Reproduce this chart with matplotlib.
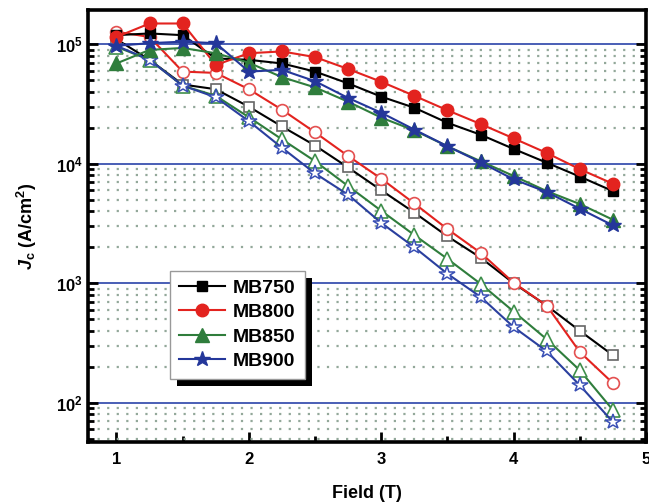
import numpy as np
import matplotlib
matplotlib.use("Agg")
import matplotlib.pyplot as plt
from matplotlib.patches import Rectangle
from matplotlib.ticker import LogLocator, MultipleLocator, NullFormatter

plt.rcParams['font.family'] = 'Liberation Sans'
plt.rcParams['font.weight'] = 'bold'
plt.rcParams['mathtext.fontset'] = 'custom'
plt.rcParams['mathtext.rm'] = 'Liberation Sans:bold'
plt.rcParams['mathtext.bf'] = 'Liberation Sans:bold'
plt.rcParams['mathtext.it'] = 'Liberation Sans:bold:italic'

## Field values (T) and Jc (A/cm^2) for each sample
field = [1.0, 1.25, 1.5, 1.75, 2.0, 2.25, 2.5, 2.75,
         3.0, 3.25, 3.5, 3.75, 4.0, 4.25, 4.5, 4.75]

# filled symbols
mb750 = [1.19e5, 1.23e5, 1.19e5, 7.6e4, 7.4e4, 6.9e4, 5.9e4, 4.7e4,
         3.64e4, 2.94e4, 2.2e4, 1.75e4, 1.33e4, 1.02e4, 7.8e3, 5.9e3]
mb800 = [1.15e5, 1.49e5, 1.49e5, 6.7e4, 8.4e4, 8.7e4, 7.8e4, 6.2e4,
         4.85e4, 3.7e4, 2.8e4, 2.15e4, 1.63e4, 1.23e4, 9.0e3, 6.8e3]
mb850 = [6.9e4, 8.96e4, 9.3e4, 8.4e4, 7.0e4, 5.3e4, 4.35e4, 3.3e4,
         2.43e4, 1.9e4, 1.4e4, 1.05e4, 7.9e3, 5.9e3, 4.6e3, 3.4e3]
mb900 = [9.7e4, 1.02e5, 1.05e5, 1.02e5, 5.9e4, 6.1e4, 4.9e4, 3.55e4,
         2.67e4, 1.93e4, 1.4e4, 1.03e4, 7.4e3, 5.8e3, 4.2e3, 3.05e3]

# open symbols
mb750_o = [1.1e5, 7.4e4, 4.6e4, 4.2e4, 3.0e4, 2.05e4, 1.42e4, 9.3e3,
           6.0e3, 3.9e3, 2.47e3, 1.64e3, 1.0e3, 6.5e2, 4.0e2, 2.5e2]
mb800_o = [1.27e5, 1.15e5, 5.9e4, 5.75e4, 4.2e4, 2.83e4, 1.83e4, 1.16e4,
           7.5e3, 4.65e3, 2.84e3, 1.8e3, 1.01e3, 6.5e2, 2.66e2, 1.46e2]
mb850_o = [9.5e4, 7.4e4, 4.5e4, 3.7e4, 2.45e4, 1.6e4, 1.05e4, 6.5e3,
           4.04e3, 2.53e3, 1.6e3, 9.9e2, 5.8e2, 3.4e2, 1.87e2, 8.7e1]
mb900_o = [9.7e4, 7.4e4, 4.5e4, 3.6e4, 2.27e4, 1.36e4, 8.3e3, 5.5e3,
           3.2e3, 2.0e3, 1.2e3, 7.7e2, 4.3e2, 2.7e2, 1.4e2, 6.9e1]

labels = ['MB750', 'MB800', 'MB850', 'MB900']

fig = plt.figure(figsize=(6.49, 5.03), dpi=100)
ax = fig.add_axes([0.1356, 0.1213, 0.8598, 0.8587])

## open series first so the filled ones sit on top
ax.plot(field, mb750_o, '-', color='black', lw=1.5, marker='s', ms=7.5,
        mfc='white', mec='#666666', mew=1.2)
ax.plot(field, mb800_o, '-', color='#e3231f', lw=1.5, marker='o', ms=8.5,
        mfc='white', mec='#e45050', mew=1.2)
ax.plot(field, mb850_o, '-', color='#2f7d3c', lw=1.5, marker='^', ms=9.5,
        mfc='white', mec='#3f8f4c', mew=1.2)
ax.plot(field, mb900_o, '-', color='#2a3f9e', lw=1.5, marker='*', ms=11.5,
        mfc='white', mec='#3a50b5', mew=1.1)

ax.plot(field, mb750, '-', color='black', lw=1.5, marker='s', ms=7.5,
        label=labels[0])
ax.plot(field, mb800, '-', color='#e3231f', lw=1.5, marker='o', ms=9,
        label=labels[1])
ax.plot(field, mb850, '-', color='#2f7d3c', lw=1.5, marker='^', ms=9.5,
        label=labels[2])
ax.plot(field, mb900, '-', color='#24379a', lw=1.5, marker='*', ms=11.5,
        label=labels[3])

ax.set_yscale('log')
ax.set_xlim(0.785, 5.0)
ax.set_ylim(47, 1.93e5)

## grid: solid blue on decades, dotted on minor ticks
ax.yaxis.set_minor_locator(LogLocator(base=10, subs=np.arange(2, 10)))
ax.yaxis.set_minor_formatter(NullFormatter())
ax.grid(which='major', axis='y', color='#3a52b0', lw=1.3, ls='-')
ax.grid(which='minor', axis='y', color='#93a89a', lw=1.6, ls=(0, (1, 3.3)))
ax.set_axisbelow(True)

ax.set_yticks([1e2, 1e3, 1e4, 1e5],
              labels=[r'$\mathbf{10^{2}}$', r'$\mathbf{10^{3}}$',
                      r'$\mathbf{10^{4}}$', r'$\mathbf{10^{5}}$'])
ax.set_xticks([1, 2, 3, 4, 5], labels=['1', '2', '3', '4', '5'])
ax.xaxis.set_minor_locator(MultipleLocator(0.5))

ax.tick_params(which='both', direction='in', right=True, top=False,
               labelsize=12, width=2)
ax.tick_params(which='major', length=7)
ax.tick_params(which='minor', length=4)
ax.tick_params(axis='x', pad=7)
for lab in ax.get_xticklabels():
    lab.set_fontweight('bold')

for sp in ax.spines.values():
    sp.set_linewidth(2.6)

ax.set_xlabel('Field (T)', fontsize=13, fontweight='bold', labelpad=13)
ax.set_ylabel(r'$\mathit{J}_{\mathbf{c}}$ (A/cm$^{\mathbf{2}}$)',
              fontsize=13, fontweight='bold', labelpad=12)

leg = ax.legend(loc='upper left', bbox_to_anchor=(0.147, 0.397),
                borderaxespad=0, fancybox=False, framealpha=1,
                edgecolor='#999999', handlelength=2.4, handletextpad=0.4,
                labelspacing=0.35, borderpad=0.45,
                prop={'family': 'Liberation Sans', 'weight': 'bold', 'size': 14})
leg.get_frame().set_linewidth(1.0)

## black drop shadow behind the legend box
fig.canvas.draw()
bb = leg.get_window_extent().transformed(ax.transAxes.inverted())
ax.add_patch(Rectangle((bb.x0 + 7 / 558, bb.y0 - 7 / 430), bb.width, bb.height,
                       transform=ax.transAxes, facecolor='black',
                       edgecolor='none', zorder=4.9, clip_on=False))

fig.savefig('out.png', dpi=100)
